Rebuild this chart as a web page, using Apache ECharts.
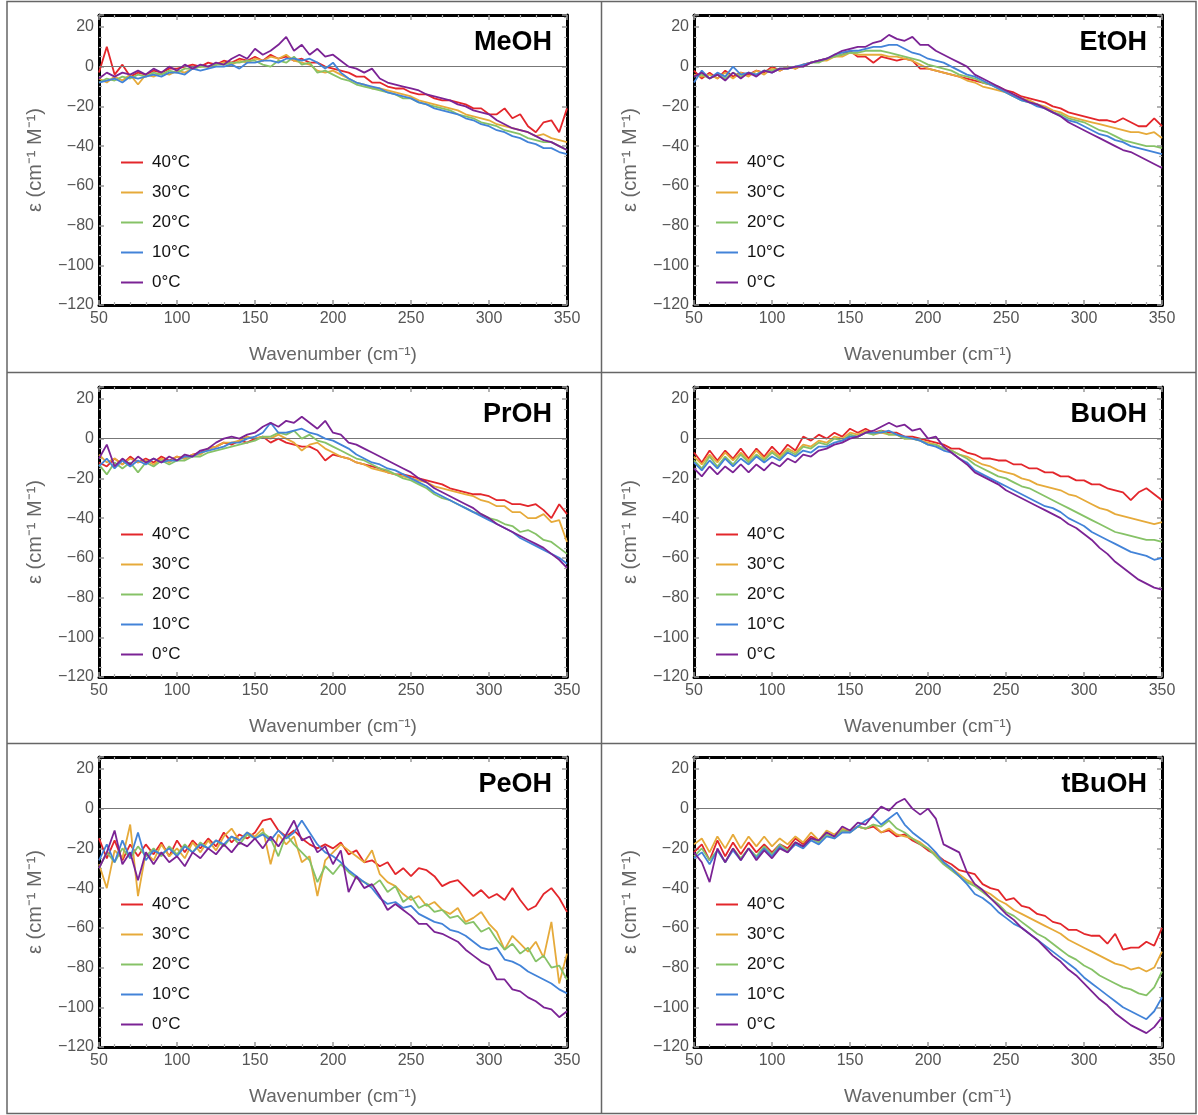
<!DOCTYPE html>
<html>
<head>
<meta charset="utf-8">
<script src="https://cdn.jsdelivr.net/npm/echarts@6/dist/echarts.min.js"></script>
<style>
  html, body { margin: 0; padding: 0; background: #fff; }
  #picture { width: 1198px; height: 1115px; }
</style>
</head>
<body>
<div id="picture"></div>
<script>
// wavenumber grid (cm^-1), one value every 5
var wavenumbers = [50,55,60,65,70,75,80,85,90,95,
    100,105,110,115,120,125,130,135,140,145,
    150,155,160,165,170,175,180,185,190,195,
    200,205,210,215,220,225,230,235,240,245,
    250,255,260,265,270,275,280,285,290,295,
    300,305,310,315,320,325,330,335,340,345,350];

var temps = ['40°C', '30°C', '20°C', '10°C', '0°C'];
var alcohols = ['MeOH', 'EtOH', 'PrOH', 'BuOH', 'PeOH', 'tBuOH'];

// MeOH
var meoh40 = [-3,10,-4,1,-5,-3,-4,-2,-3,-1, -1,0,1,0,2,1,3,2,4,3, 5,3,6,4,5,3,4,2,2,0,
    -1,-2,-3,-5,-5,-8,-8,-10,-11,-11, -13,-14,-14,-16,-17,-17,-18,-19,-21,-21, -24,-24,-21,-26,-24,-30,-33,-28,-27,-33, -21];
var meoh30 = [-6,-8,-5,-7,-4,-9,-4,-5,-3,-4, -2,-3,-1,0,0,1,2,1,3,2, 4,3,5,4,6,3,2,1,-2,-3,
    -2,-4,-6,-8,-9,-11,-11,-12,-13,-14, -15,-17,-18,-19,-20,-21,-22,-24,-25,-26, -27,-29,-30,-31,-32,-33,-35,-34,-36,-37, -38];
var meoh20 = [-8,-6,-7,-5,-6,-4,-5,-3,-4,-2, -3,-1,-1,0,0,1,1,2,2,3, 3,1,0,3,2,5,1,2,-3,-2,
    -4,-6,-7,-9,-10,-11,-12,-13,-14,-16, -16,-18,-19,-20,-21,-22,-24,-25,-26,-28, -29,-30,-32,-33,-34,-36,-37,-38,-38,-40, -42];
var meoh10 = [-8,-7,-6,-8,-5,-6,-5,-4,-5,-3, -3,-4,-1,-2,-1,0,0,1,-1,2, 2,3,3,2,4,4,3,4,2,-1,
    2,-3,-6,-8,-9,-10,-11,-13,-14,-15, -16,-18,-19,-21,-22,-23,-24,-26,-27,-29, -30,-32,-33,-35,-36,-38,-39,-41,-41,-43, -44];
var meoh0 = [-6,-3,-5,-3,-4,-2,-4,-1,-3,0, -2,1,-1,1,0,2,1,4,6,4, 9,6,8,11,15,8,11,6,9,5,
    6,3,0,-1,-3,-1,-6,-8,-9,-10, -11,-12,-14,-15,-16,-17,-19,-20,-22,-23, -24,-27,-29,-31,-32,-33,-35,-37,-38,-40, -42];

// EtOH
var etoh40 = [-2,-6,-3,-6,-2,-5,-3,-4,-2,-3, 0,-2,0,-1,1,2,3,4,5,6, 8,5,5,2,5,4,3,4,3,-1,
    -1,-2,-3,-4,-5,-6,-7,-8,-9,-10, -12,-13,-15,-16,-17,-18,-20,-21,-23,-24, -25,-26,-27,-27,-28,-26,-28,-30,-30,-26, -30];
var etoh30 = [-4,-5,-4,-6,-3,-6,-3,-5,-2,-4, -1,-2,0,-1,1,2,3,3,5,5, 7,6,6,6,6,5,5,4,3,1,
    -1,-2,-3,-4,-5,-7,-8,-10,-11,-12, -13,-15,-16,-17,-19,-20,-22,-23,-25,-26, -27,-28,-29,-30,-31,-32,-33,-33,-34,-33, -36];
var etoh20 = [-5,-4,-6,-4,-6,-3,-5,-3,-4,-2, -2,-1,-1,0,0,2,2,4,5,6, 7,7,8,8,8,7,6,5,4,3,
    1,0,-1,-2,-4,-5,-6,-8,-9,-11, -13,-15,-17,-18,-19,-21,-23,-24,-26,-27, -28,-30,-32,-33,-35,-37,-38,-39,-40,-40, -41];
var etoh10 = [-8,-2,-6,-3,-5,0,-4,-3,-4,-2, -3,-1,-1,0,1,2,3,4,6,7, 8,8,9,10,10,11,11,9,7,6,
    4,3,2,0,-2,-4,-5,-7,-9,-11, -13,-15,-17,-18,-20,-21,-23,-25,-27,-28, -30,-32,-34,-35,-37,-38,-40,-41,-42,-43, -44];
var etoh0 = [-5,-3,-6,-4,-7,-3,-6,-3,-5,-2, -3,-1,-1,0,0,2,3,4,6,8, 9,10,10,12,13,16,14,13,15,11,
    11,8,6,4,2,0,-4,-6,-8,-10, -12,-14,-16,-18,-19,-21,-23,-25,-28,-30, -32,-34,-36,-38,-40,-42,-43,-45,-47,-49, -51];

// PrOH
var proh40 = [-12,-14,-10,-13,-9,-12,-10,-12,-9,-11, -9,-10,-8,-7,-5,-4,-2,-3,-1,-2, 0,1,-2,0,-2,-3,-4,-4,-6,-11,
    -8,-9,-10,-12,-13,-14,-15,-17,-18,-18, -19,-20,-21,-22,-23,-25,-26,-27,-28,-28, -29,-31,-31,-33,-33,-34,-33,-36,-40,-33, -38];
var proh30 = [-8,-12,-10,-13,-10,-12,-11,-13,-10,-12, -9,-10,-8,-8,-5,-4,-2,-2,-1,1, 0,1,0,2,0,-2,-6,-3,-2,-5,
    -7,-9,-10,-12,-13,-15,-16,-17,-18,-19, -20,-21,-22,-24,-25,-26,-27,-28,-29,-31, -32,-34,-34,-37,-37,-40,-40,-38,-42,-41, -52];
var proh20 = [-13,-18,-12,-15,-12,-17,-12,-14,-11,-13, -11,-11,-9,-9,-7,-6,-5,-4,-3,-2, -1,1,1,3,2,4,0,2,-1,-2,
    -4,-6,-8,-10,-11,-13,-15,-16,-18,-20, -21,-23,-25,-28,-30,-31,-33,-35,-37,-38, -40,-41,-43,-44,-47,-46,-48,-51,-52,-55, -58];
var proh10 = [-14,-10,-15,-11,-14,-11,-13,-10,-12,-11, -11,-9,-9,-7,-6,-5,-4,-2,-2,0, 1,3,8,3,3,4,5,3,2,0,
    -1,-3,-5,-8,-10,-12,-13,-15,-16,-18, -20,-22,-24,-27,-29,-31,-33,-35,-37,-39, -41,-43,-45,-47,-50,-52,-54,-56,-58,-60, -63];
var proh0 = [-10,-3,-14,-10,-13,-9,-12,-10,-12,-9, -11,-8,-9,-6,-5,-2,0,1,0,2, 3,6,8,6,9,8,11,8,5,9,
    3,2,-2,-3,-5,-7,-9,-11,-13,-15, -17,-20,-22,-25,-27,-29,-31,-33,-35,-38, -40,-43,-45,-47,-49,-51,-53,-55,-58,-61, -65];

// BuOH
var buoh40 = [-7,-12,-6,-11,-6,-10,-5,-10,-5,-9, -4,-8,-3,-6,1,-1,2,0,3,1, 5,3,5,3,4,3,3,1,1,0,
    -1,-2,-3,-5,-5,-7,-8,-10,-10,-11, -11,-13,-13,-15,-15,-17,-17,-19,-19,-21, -21,-23,-23,-25,-26,-27,-31,-27,-25,-28, -31];
var buoh30 = [-9,-13,-8,-12,-7,-11,-7,-11,-6,-10, -6,-9,-5,-7,-3,-4,-1,-2,1,0, 3,2,4,2,3,2,2,0,0,-1,
    -2,-3,-5,-6,-8,-9,-11,-13,-14,-16, -17,-18,-20,-21,-23,-24,-25,-26,-28,-29, -31,-33,-35,-36,-38,-39,-40,-41,-42,-43, -42];
var buoh20 = [-11,-15,-9,-14,-9,-13,-8,-12,-8,-11, -7,-10,-6,-8,-4,-5,-2,-3,0,-1, 2,1,3,2,4,2,2,0,0,-1,
    -3,-3,-5,-6,-8,-10,-13,-15,-17,-19, -20,-22,-24,-25,-27,-29,-31,-33,-35,-37, -39,-41,-43,-45,-47,-48,-49,-50,-51,-51, -52];
var buoh10 = [-12,-16,-11,-15,-10,-14,-10,-13,-9,-12, -9,-11,-7,-9,-6,-7,-4,-4,-2,-1, 1,1,3,3,3,4,2,1,0,-1,
    -3,-4,-6,-7,-10,-12,-16,-18,-20,-22, -24,-26,-28,-30,-32,-34,-35,-37,-40,-42, -44,-47,-49,-51,-53,-55,-57,-58,-59,-61, -60];
var buoh0 = [-15,-19,-14,-18,-14,-17,-13,-17,-13,-16, -12,-14,-10,-12,-8,-9,-6,-5,-3,-2, 0,1,3,4,6,8,6,7,4,5,
    0,1,-4,-7,-10,-13,-17,-19,-21,-23, -26,-28,-30,-32,-34,-36,-38,-40,-43,-45, -48,-51,-55,-58,-62,-65,-68,-71,-73,-75, -76];

// PeOH
var peoh40 = [-15,-25,-16,-26,-18,-24,-18,-23,-17,-24, -16,-22,-16,-20,-15,-19,-12,-17,-13,-15, -12,-6,-5,-11,-14,-11,-15,-18,-20,-18,
    -20,-17,-23,-21,-27,-26,-29,-27,-33,-30, -34,-30,-31,-34,-39,-37,-36,-40,-44,-41, -45,-43,-46,-40,-46,-51,-49,-43,-40,-45, -52];
var peoh30 = [-28,-40,-21,-25,-8,-44,-22,-26,-18,-24, -20,-25,-17,-22,-16,-21,-14,-10,-16,-12, -14,-10,-28,-13,-18,-14,-27,-24,-44,-26,
    -22,-18,-21,-24,-27,-21,-33,-37,-39,-43, -46,-44,-49,-47,-51,-53,-50,-57,-55,-52, -58,-62,-71,-64,-68,-72,-67,-75,-57,-88, -73];
var peoh20 = [-30,-22,-27,-20,-25,-19,-24,-20,-24,-19, -23,-18,-22,-17,-20,-16,-19,-14,-18,-13, -15,-12,-15,-24,-13,-18,-22,-26,-37,-29,
    -33,-28,-32,-35,-37,-39,-36,-42,-39,-47, -44,-50,-48,-52,-51,-55,-54,-58,-57,-62, -60,-66,-71,-68,-73,-70,-77,-74,-80,-79, -86];
var peoh10 = [-26,-18,-27,-16,-25,-12,-26,-21,-23,-20, -24,-19,-22,-18,-20,-16,-18,-14,-16,-12, -15,-13,-16,-11,-15,-12,-6,-12,-18,-22,
    -24,-27,-31,-34,-37,-40,-45,-48,-47,-50, -49,-53,-55,-57,-58,-61,-62,-64,-67,-70, -71,-70,-76,-77,-79,-82,-84,-86,-88,-91, -93];
var peoh0 = [-30,-22,-11,-28,-22,-36,-22,-28,-22,-27, -24,-29,-22,-25,-20,-23,-18,-22,-17,-19, -15,-20,-14,-19,-13,-6,-16,-14,-22,-19,
    -28,-21,-42,-34,-40,-38,-44,-51,-48,-51, -54,-58,-58,-62,-63,-65,-67,-71,-74,-77, -79,-86,-86,-91,-92,-95,-97,-100,-101,-105, -102];

// tBuOH
var tbuoh40 = [-22,-18,-26,-16,-24,-17,-23,-17,-22,-18, -22,-18,-20,-15,-18,-14,-16,-12,-14,-11, -11,-9,-10,-9,-12,-11,-14,-13,-16,-18,
    -21,-23,-26,-28,-31,-32,-33,-38,-40,-41, -46,-45,-49,-50,-53,-54,-57,-58,-61,-61, -63,-64,-64,-68,-63,-71,-70,-70,-67,-69, -60];
var tbuoh30 = [-18,-15,-22,-14,-20,-13,-20,-14,-19,-14, -19,-15,-18,-14,-17,-12,-16,-11,-13,-10, -11,-9,-10,-8,-12,-10,-13,-14,-15,-17,
    -20,-23,-27,-30,-33,-36,-38,-41,-43,-46, -48,-51,-53,-55,-57,-59,-61,-63,-66,-68, -70,-72,-74,-76,-78,-79,-81,-80,-82,-80, -72];
var tbuoh20 = [-24,-20,-26,-21,-27,-20,-25,-20,-24,-19, -23,-18,-21,-17,-19,-15,-17,-13,-15,-11, -12,-9,-10,-8,-9,-6,-10,-12,-15,-18,
    -20,-24,-28,-31,-34,-37,-39,-42,-45,-48, -52,-54,-57,-60,-63,-65,-68,-71,-74,-76, -79,-81,-84,-86,-88,-90,-91,-93,-94,-90, -82];
var tbuoh10 = [-25,-22,-28,-21,-27,-21,-26,-20,-25,-20, -24,-19,-22,-18,-20,-16,-18,-14,-15,-12, -12,-9,-6,-4,-8,-5,-2,-8,-12,-15,
    -18,-22,-27,-30,-34,-38,-43,-45,-48,-52, -55,-58,-60,-63,-66,-69,-72,-75,-78,-81, -85,-88,-91,-94,-97,-100,-102,-104,-106,-102, -95];
var tbuoh0 = [-22,-27,-37,-20,-27,-20,-26,-20,-26,-21, -25,-20,-22,-17,-19,-15,-16,-12,-14,-9, -11,-7,-8,-3,1,-1,3,5,0,-3,
    0,-5,-18,-20,-22,-32,-38,-41,-45,-49, -53,-56,-60,-63,-66,-70,-74,-77,-81,-84, -88,-92,-96,-99,-103,-106,-109,-111,-113,-110, -105];

var yTicks = [-120, -100, -80, -60, -40, -20, 0, 20];
var xTicks = [50, 100, 150, 200, 250, 300, 350];

var panelData = [
    [meoh40, meoh30, meoh20, meoh10, meoh0],
    [etoh40, etoh30, etoh20, etoh10, etoh0],
    [proh40, proh30, proh20, proh10, proh0],
    [buoh40, buoh30, buoh20, buoh10, buoh0],
    [peoh40, peoh30, peoh20, peoh10, peoh0],
    [tbuoh40, tbuoh30, tbuoh20, tbuoh10, tbuoh0]
];

var colors = ['#e3262b', '#e6aa3a', '#86c267', '#4283d8', '#7b2395'];
var font = 'Liberation Sans';

function pairs(ys) {
    return ys.map(function (y, i) { return [wavenumbers[i], y]; });
}

// frame pieces, built fresh for every axis
function frameLine() { return {show: true, onZero: false, lineStyle: {color: '#000', width: 3}}; }
function frameTick() { return {show: true, inside: true, length: 5, lineStyle: {color: '#999', width: 1.5}}; }
function frameMinor(n) { return {show: true, splitNumber: n, length: 3, lineStyle: {color: '#aaa', width: 1.2}}; }

function buildOption() {
    var colLeft = [99, 694];
    var rowTop = [15, 387, 757];
    var plotW = 468, plotH = 290;
    var grids = [], xAxes = [], yAxes = [], series = [], legends = [], graphics = [];

    for (var p = 0; p < alcohols.length; p++) {
        var gx = colLeft[p % 2];
        var gy = rowTop[Math.floor(p / 2)];
        grids.push({left: gx, top: gy, width: plotW, height: plotH});

        xAxes.push({
            type: 'value', gridIndex: p, min: xTicks[0], max: xTicks[xTicks.length - 1], interval: 50,
            position: 'bottom',
            axisLine: frameLine(), axisTick: frameTick(), minorTick: frameMinor(5),
            splitLine: {show: false},
            axisLabel: {color: '#555', fontSize: 16, fontFamily: font, margin: 6},
            name: 'Wavenumber (cm\u207B\u00B9)', nameLocation: 'middle', nameGap: 40,
            nameTextStyle: {color: '#666', fontSize: 19, fontFamily: font}
        });
        xAxes.push({
            type: 'value', gridIndex: p, min: 50, max: 350, interval: 50, position: 'top',
            axisLine: frameLine(), axisTick: frameTick(), minorTick: frameMinor(5),
            splitLine: {show: false}, axisLabel: {show: false}
        });
        yAxes.push({
            type: 'value', gridIndex: p, min: yTicks[0], max: 26, interval: 20, position: 'left',
            axisLine: frameLine(), axisTick: frameTick(), minorTick: frameMinor(4),
            splitLine: {show: false},
            axisLabel: {color: '#555', fontSize: 16, fontFamily: font, margin: 5, showMaxLabel: false,
                formatter: function (v) { return v < 0 ? '\u2212' + Math.abs(v) : String(v); }},
            name: '\u03B5 (cm\u207B\u00B9 M\u207B\u00B9)', nameLocation: 'middle', nameGap: 54,
            nameTextStyle: {color: '#666', fontSize: 20, fontFamily: font}
        });
        yAxes.push({
            type: 'value', gridIndex: p, min: -120, max: 26, interval: 20, position: 'right',
            axisLine: frameLine(), axisTick: frameTick(), minorTick: frameMinor(4),
            splitLine: {show: false}, axisLabel: {show: false}
        });

        for (var s = 0; s < temps.length; s++) {
            var ser = {
                name: temps[s], type: 'line',
                xAxisIndex: p * 2, yAxisIndex: p * 2,
                data: pairs(panelData[p][s]),
                showSymbol: false,
                lineStyle: {color: colors[s], width: 1.8},
                itemStyle: {color: colors[s]},
                z: 3 + s
            };
            if (s === 0) {
                ser.markLine = {
                    silent: true, symbol: ['none', 'none'], label: {show: false},
                    lineStyle: {color: '#777', width: 1, type: 'solid'},
                    data: [{yAxis: 0}]
                };
            }
            series.push(ser);
        }

        legends.push({
            orient: 'vertical', left: gx + 22, top: gy + 139, padding: 0,
            icon: 'rect', itemWidth: 22, itemHeight: 2, itemGap: 13,
            data: temps.slice(), selectedMode: false,
            textStyle: {color: '#111', fontSize: 17, fontFamily: font, padding: [0, 0, 0, 4]}
        });

        graphics.push({
            type: 'text', x: gx + plotW - 15, y: gy + 28,
            style: {text: alcohols[p], fill: '#000', font: 'bold 27px "Liberation Sans"',
                textAlign: 'right', textVerticalAlign: 'middle'}
        });
    }

    // table borders around the panels
    graphics.push({type: 'rect', shape: {x: 7, y: 1.5, width: 1189, height: 1112},
        style: {fill: 'none', stroke: '#666', lineWidth: 1.5}});
    graphics.push({type: 'line', shape: {x1: 601.5, y1: 1.5, x2: 601.5, y2: 1113.5},
        style: {stroke: '#666', lineWidth: 1.5}});
    graphics.push({type: 'line', shape: {x1: 7, y1: 372.5, x2: 1196, y2: 372.5},
        style: {stroke: '#666', lineWidth: 1.5}});
    graphics.push({type: 'line', shape: {x1: 7, y1: 743.5, x2: 1196, y2: 743.5},
        style: {stroke: '#666', lineWidth: 1.5}});

    return {
        backgroundColor: '#fff',
        animation: false,
        grid: grids,
        xAxis: xAxes,
        yAxis: yAxes,
        legend: legends,
        graphic: graphics,
        series: series
    };
}

var myChart = echarts.init(document.getElementById('picture'));
myChart.setOption(buildOption());
</script>
</body>
</html>
